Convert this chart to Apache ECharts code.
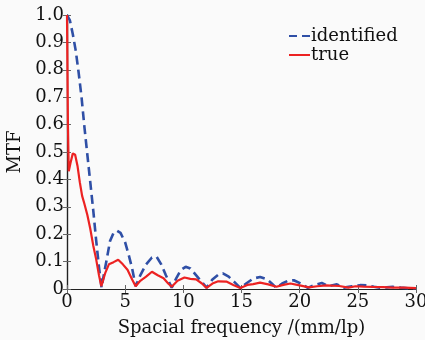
<!DOCTYPE html>
<html><head><meta charset="utf-8">
<script src="https://cdn.jsdelivr.net/npm/echarts@6/dist/echarts.min.js"></script>
<style>html,body{margin:0;padding:0;background:#fafafa}#c{width:425px;height:340px}</style>
</head><body><div id="c"></div>
<script>
var seriesNames = ['identified', 'true'];
var xTicks = [0, 5, 10, 15, 20, 25, 30];
var identifiedX = [0,0.25,0.5,0.75,1.0,1.25,1.5,1.75,2.0,2.25,2.5,2.75,2.97,3.2,3.4,3.7,4.0,4.3,4.6,5.0,5.3,5.6,5.9,6.3,6.8,7.3,7.7,8.1,8.5,9.0,9.4,9.8,10.2,10.6,11.0,11.5,12.0,12.5,13.0,13.4,13.9,14.4,14.9,15.4,16.0,16.6,17.2,17.6,18.0,18.5,19.0,19.5,20.1,20.7,21.3,21.9,22.5,23.2,23.8,24.5,25.2,25.8,26.4,27.0,27.5,28.0,28.7,29.3,30];
var identifiedY = [1.0,0.98,0.93,0.87,0.79,0.70,0.59,0.49,0.39,0.29,0.18,0.08,0.005,0.06,0.105,0.175,0.205,0.213,0.205,0.17,0.125,0.075,0.01,0.05,0.09,0.115,0.118,0.09,0.05,0.005,0.04,0.07,0.081,0.075,0.055,0.03,0.005,0.035,0.052,0.057,0.045,0.025,0.004,0.02,0.038,0.044,0.035,0.02,0.004,0.02,0.03,0.032,0.02,0.004,0.015,0.022,0.01,0.017,0.005,0.01,0.014,0.013,0.008,0.004,0.006,0.008,0.005,0.003,0.003];
var trueX = [0,0.08,0.15,0.3,0.5,0.7,0.9,1.1,1.3,1.5,1.75,2.0,2.25,2.5,2.75,2.95,3.3,3.6,4.0,4.4,4.8,5.2,5.6,5.9,6.3,6.8,7.3,7.8,8.3,8.7,9.0,9.5,10.1,10.6,11.1,11.6,12.0,12.5,13.0,13.7,14.3,14.9,15.5,16.0,16.6,17.3,18.0,18.6,19.2,20.0,20.8,21.5,22.3,23.4,24.2,24.8,25.5,26.3,27.2,28.0,29.0,30];
var trueY = [1.0,0.6,0.43,0.46,0.495,0.49,0.45,0.39,0.34,0.31,0.27,0.22,0.16,0.11,0.05,0.01,0.06,0.09,0.098,0.107,0.09,0.07,0.035,0.01,0.03,0.045,0.063,0.05,0.039,0.02,0.008,0.03,0.042,0.037,0.035,0.02,0.004,0.02,0.028,0.027,0.015,0.004,0.015,0.018,0.023,0.017,0.008,0.015,0.02,0.013,0.006,0.01,0.013,0.011,0.005,0.01,0.009,0.008,0.007,0.005,0.005,0.003];

function pairs(xs, ys){ return xs.map(function(x,i){ return [x, ys[i]]; }); }
var FONT = 'DejaVu Serif';
var FS = 18;
var chart = echarts.init(document.getElementById('c'), null, {renderer:'canvas'});
var axisLine = {show:true, lineStyle:{color:'#222', width:1.2}};
chart.setOption({
  backgroundColor:'#fafafa',
  animation:false,
  textStyle:{fontFamily:FONT},
  grid:{left:67, top:15, right:9, bottom:51, containLabel:false, outerBoundsMode:'none'},
  legend:{
    orient:'vertical', left:284, top:22, itemGap:1, itemWidth:21, itemHeight:18,
    textStyle:{fontFamily:FONT, fontSize:FS, color:'#111', padding:[0,0,0,-4]},
    data:[
      {name:seriesNames[0], icon:'path://M0,8L8,8L8,10L0,10ZM13,8L21,8L21,10L13,10Z'},
      {name:seriesNames[1], icon:'path://M0,8L21,8L21,10L0,10Z'}
    ]
  },
  xAxis:[{
    type:'value', min:0, max:30, interval:5, position:'bottom',
    axisLine:axisLine, splitLine:{show:false},
    axisTick:{show:true, inside:true, length:4, lineStyle:{color:'#666'}},
    axisLabel:{fontFamily:FONT, fontSize:FS, color:'#111', margin:4,
      formatter:function(v){ return xTicks.indexOf(v)>=0 ? String(v) : ''; }},
    name:'Spacial frequency /(mm/lp)', nameLocation:'middle', nameGap:30,
    nameTextStyle:{fontFamily:FONT, fontSize:FS, color:'#111'}
  },{
    type:'value', min:0, max:30, interval:5, position:'top',
    axisLine:axisLine, splitLine:{show:false}, axisLabel:{show:false},
    axisTick:{show:true, inside:true, length:4, lineStyle:{color:'#666'}}
  }],
  yAxis:[{
    type:'value', min:0, max:1, interval:0.1, position:'left',
    axisLine:axisLine, splitLine:{show:false},
    axisTick:{show:true, inside:true, length:4, lineStyle:{color:'#666'}},
    axisLabel:{fontFamily:FONT, fontSize:FS, color:'#111', margin:3,
      formatter:function(v){ return v===0 ? '0' : v.toFixed(1); }},
    name:'MTF', nameLocation:'middle', nameGap:43,
    nameTextStyle:{fontFamily:FONT, fontSize:FS, color:'#111'}
  },{
    type:'value', min:0, max:1, interval:0.1, position:'right',
    axisLine:axisLine, splitLine:{show:false}, axisLabel:{show:false},
    axisTick:{show:true, inside:true, length:4, lineStyle:{color:'#666'}}
  }],
  series:[{
    name:seriesNames[0], type:'line', xAxisIndex:0, yAxisIndex:0, symbol:'none', z:3,
    data:pairs(identifiedX, identifiedY),
    itemStyle:{color:'#2f4fa6'},
    lineStyle:{color:'#2f4fa6', width:2.6, type:[9,5]}
  },{
    name:seriesNames[1], type:'line', xAxisIndex:0, yAxisIndex:0, symbol:'none', z:4,
    data:pairs(trueX, trueY),
    itemStyle:{color:'#ec2222'},
    lineStyle:{color:'#ec2222', width:2.2}
  }]
});
</script></body></html>
